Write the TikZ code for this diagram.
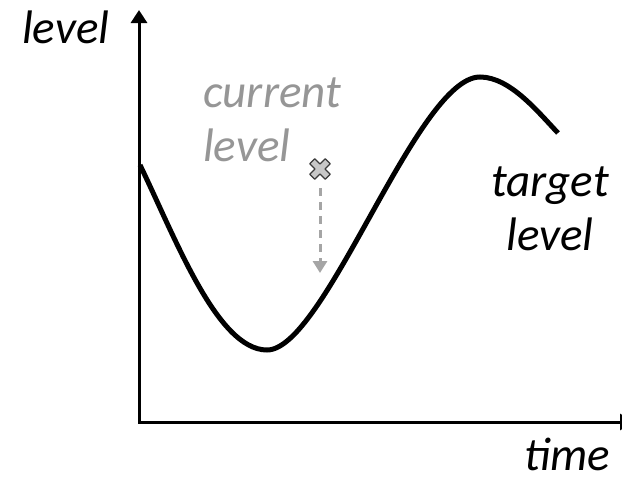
\documentclass[tikz,border=0pt]{standalone}
\usepackage{fontspec}
\setmainfont{Carlito}
\usepackage{xcolor}
\usetikzlibrary{arrows.meta, positioning}

\definecolor{curgray}{RGB}{150,150,150}
\definecolor{dropgray}{RGB}{165,165,165}
\definecolor{markfill}{RGB}{200,200,200}
\definecolor{markline}{RGB}{60,60,60}

\begin{document}
\begin{tikzpicture}[x=1pt, y=-1pt,
    axis/.style={line width=3pt, {Triangle[length=13pt, width=16pt]}-{Triangle[length=13pt, width=16pt]}},
    wave/.style={line width=5pt},
    lbl/.style={font=\fontsize{47}{54}\selectfont\itshape, inner sep=0pt}]
    \useasboundingbox (0,0) rectangle (622,485);
    % axes
    \coordinate (ytop) at (139,10);
    \coordinate (origin) at (139,422);
    \coordinate (xend) at (633,422);
    \draw[axis] (ytop) -- (origin) -- (xend);
    % target level (wave)
    \coordinate (wstart) at (140,165);
    \coordinate (wlow) at (267,350);
    \coordinate (whigh) at (480,77);
    \coordinate (wend) at (558,133);
    \draw[wave] (wstart) .. controls (175,237) and (217,350) .. (wlow)
        .. controls (325,350) and (417,77) .. (whigh)
        .. controls (510,77) and (538,112) .. (wend);
    % current level marker
    \node[minimum size=20pt, inner sep=0pt] (cur) at (320,169) {};
    \draw[shift={(cur.center)}, rotate=45, fill=markfill, draw=markline, line width=1.2pt, line join=round]
        (3.5,3.5) -- (3.5,11) -- (-3.5,11) -- (-3.5,3.5) -- (-11,3.5) -- (-11,-3.5)
        -- (-3.5,-3.5) -- (-3.5,-11) -- (3.5,-11) -- (3.5,-3.5) -- (11,-3.5) -- (11,3.5) -- cycle;
    \coordinate (dropend) at (320,273);
    \draw[dropgray, line width=3pt, dash pattern=on 8pt off 6pt, -{Triangle[length=12pt, width=14pt]}]
        ([yshift=-9pt]cur.south) -- (dropend);
    % labels
    \node[lbl, anchor=base west] (ylabel) at (22,43) {level};
    \node[lbl, curgray, anchor=base west, align=left] (curlabel) at (203,161) {current\\level};
    \node[lbl, anchor=base, align=center] (tgtlabel) at (550,250) {target\\level};
    \node[lbl, anchor=base west] (xlabel) at (524,470) {time};
\end{tikzpicture}
\end{document}
